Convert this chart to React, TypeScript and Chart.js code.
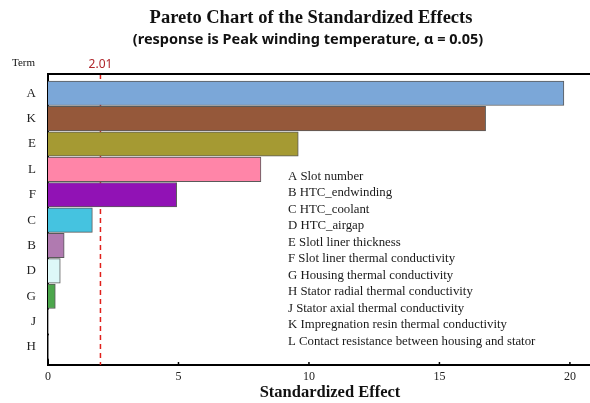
import React, { useEffect, useRef } from "react";
import { Chart, registerables } from "chart.js";

Chart.register(...registerables);

const terms = ["A", "K", "E", "L", "F", "C", "B", "D", "G", "J", "H"];
const effects = [19.77, 16.77, 9.59, 8.16, 4.93, 1.70, 0.62, 0.47, 0.28, 0.03, 0.02];
const barColors = [
  "#7BA7D8", "#95583A", "#A59A33", "#FF85A8", "#9112B5", "#45C3E0",
  "#B07AB0", "#DDF8F8", "#4CA64C", "#CCCCCC", "#CCCCCC",
];
const xTicks = [0, 5, 10, 15, 20];
const critical = 2.01;
const legendLines = [
  "A Slot number",
  "B HTC_endwinding",
  "C HTC_coolant",
  "D HTC_airgap",
  "E Slotl liner thickness",
  "F Slot liner thermal conductivity",
  "G Housing thermal conductivity",
  "H Stator radial thermal conductivity",
  "J Stator axial thermal conductivity",
  "K Impregnation resin thermal conductivity",
  "L Contact resistance between housing and stator",
];
const titleText = "Pareto Chart of the Standardized Effects";
const subtitleText = "(response is Peak winding temperature, \u03b1 = 0.05)";
const xTitle = "Standardized Effect";
const yTitle = "Term";

const SERIF = "'Liberation Serif', 'Times New Roman', serif";
const SANS = "'Noto Sans', 'Open Sans', sans-serif";

export default function App() {
  const ref = useRef<HTMLCanvasElement | null>(null);
  useEffect(() => {
    if (!ref.current) return;
    const decor = {
      id: "decor",
      beforeDatasetsDraw(chart: any) {
        const { ctx, chartArea, scales } = chart;
        const x = scales.x.getPixelForValue(critical);
        ctx.save();
        ctx.strokeStyle = "#E0201B";
        ctx.lineWidth = 1.5;
        ctx.setLineDash([5, 4]);
        ctx.beginPath();
        ctx.moveTo(x, chartArea.top);
        ctx.lineTo(x, chartArea.bottom);
        ctx.stroke();
        ctx.restore();
      },
      afterDraw(chart: any) {
        const { ctx, chartArea, scales } = chart;
        ctx.save();
        ctx.strokeStyle = "#000";
        ctx.lineWidth = 2;
        ctx.beginPath();
        ctx.moveTo(chartArea.left - 1, chartArea.top);
        ctx.lineTo(chartArea.right, chartArea.top);
        ctx.stroke();
        ctx.lineWidth = 1.5;
        xTicks.forEach((t) => {
          const px = scales.x.getPixelForValue(t);
          ctx.beginPath();
          ctx.moveTo(px, chartArea.bottom);
          ctx.lineTo(px, chartArea.bottom - 3);
          ctx.stroke();
        });
        const cx = scales.x.getPixelForValue(critical);
        ctx.fillStyle = "#B0262B";
        ctx.font = `12px ${SANS}`;
        ctx.textAlign = "center";
        ctx.textBaseline = "middle";
        ctx.fillText(String(critical), cx, 65);
        ctx.fillStyle = "#111";
        ctx.font = `bold 18.5px ${SERIF}`;
        ctx.fillText(titleText, 311, 18);
        ctx.font = `bold 14.5px ${SANS}`;
        ctx.fillText(subtitleText, 308, 40);
        ctx.font = `bold 16.5px ${SERIF}`;
        ctx.fillText(xTitle, 330, 393);
        ctx.font = `11px ${SERIF}`;
        ctx.textAlign = "left";
        ctx.fillText(yTitle, 12, 63);
        ctx.font = `12.8px ${SERIF}`;
        ctx.fillStyle = "#1a1a1a";
        legendLines.forEach((s, i) => {
          ctx.fillText(s, 288, 176.5 + i * 16.5);
        });
        ctx.restore();
      },
    };
    const chart = new Chart(ref.current, {
      type: "bar",
      data: {
        datasets: [
          {
            data: effects.map((v, i) => ({ x: v, y: i })) as any,
            backgroundColor: barColors,
            borderColor: "#5a5a5a",
            borderWidth: 1,
            barThickness: 24.5,
          },
        ],
      },
      options: {
        indexAxis: "y",
        responsive: false,
        maintainAspectRatio: false,
        animation: false,
        layout: { padding: { top: 74, left: 0, right: 0, bottom: 0 } },
        plugins: {
          legend: { display: false },
          tooltip: { enabled: false },
          title: { display: false },
        },
        scales: {
          x: {
            type: "linear",
            min: 0,
            max: 20.77,
            offset: false,
            grid: { display: false, drawTicks: false },
            border: { display: true, color: "#000", width: 2 },
            afterBuildTicks: (s: any) => {
              s.ticks = xTicks.map((v) => ({ value: v }));
            },
            afterFit: (s: any) => {
              s.height = 38;
            },
            ticks: {
              padding: 5,
              color: "#222",
              font: { family: SERIF, size: 12 },
              callback: (v: any) => String(v),
            },
          },
          y: {
            type: "linear",
            reverse: true,
            offset: false,
            min: -0.76,
            max: 10.71,
            grid: { display: false, drawTicks: false, offset: false },
            border: { display: true, color: "#000", width: 2 },
            afterBuildTicks: (s: any) => {
              s.ticks = terms.map((_, i) => ({ value: i }));
            },
            afterFit: (s: any) => {
              s.width = 48;
            },
            ticks: {
              padding: 12,
              color: "#222",
              font: { family: SERIF, size: 13 },
              autoSkip: false,
              callback: (v: any) => terms[v] ?? "",
            },
          },
        },
      },
      plugins: [decor],
    } as any);
    return () => chart.destroy();
  }, []);
  return (
    <div style={{ position: "absolute", left: 0, top: 0, width: 590, height: 403, background: "#fff" }}>
      <canvas ref={ref} width={590} height={403} style={{ display: "block" }} />
    </div>
  );
}
